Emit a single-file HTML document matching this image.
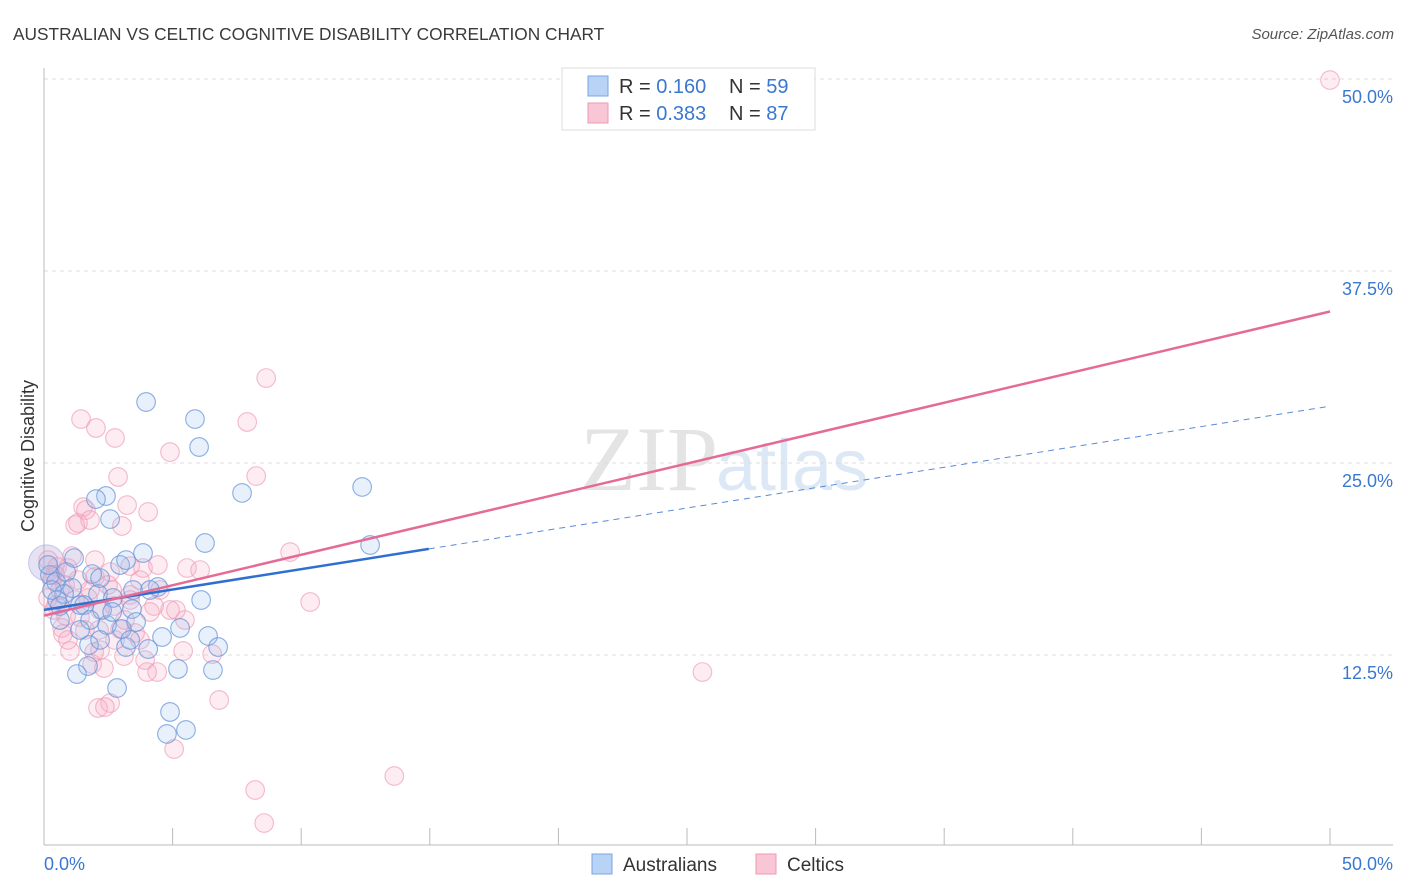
<!DOCTYPE html>
<html><head><meta charset="utf-8">
<style>
body{margin:0;background:#fff;font-family:"Liberation Sans",sans-serif;}
#wrap{position:relative;width:1406px;height:892px;overflow:hidden;}
</style></head>
<body>
<div id="wrap">
<svg id="svg" width="1406" height="892" xmlns="http://www.w3.org/2000/svg">
<text x="13" y="40" font-size="17.3" fill="#3a3a3a">AUSTRALIAN VS CELTIC COGNITIVE DISABILITY CORRELATION CHART</text>
<text x="1394" y="39" font-size="15" fill="#555" font-style="italic" text-anchor="end">Source: ZipAtlas.com</text>
<text x="718" y="490" font-size="92" fill="#e4e4e4" text-anchor="end" font-family="Liberation Serif">ZIP</text>
<text x="716" y="490" font-size="72" fill="#dce8f6">atlas</text>
<g id="grid"></g>
<g id="pts"></g>
<g id="lines"></g>
<text transform="translate(34,456) rotate(-90)" font-size="18" fill="#333" text-anchor="middle">Cognitive Disability</text>
<g>
<rect x="562" y="68" width="253" height="62" fill="#fff" stroke="#ddd"/>
<rect x="588" y="76" width="20" height="20" fill="#b8d3f5" stroke="#7aa6e0"/>
<text x="619" y="93" font-size="20" fill="#333">R = <tspan fill="#3a78d0">0.160</tspan></text>
<text x="729" y="93" font-size="20" fill="#333">N = <tspan fill="#3a78d0">59</tspan></text>
<rect x="588" y="103" width="20" height="20" fill="#f8c6d5" stroke="#ee9ab5"/>
<text x="619" y="120" font-size="20" fill="#333">R = <tspan fill="#3a78d0">0.383</tspan></text>
<text x="729" y="120" font-size="20" fill="#333">N = <tspan fill="#3a78d0">87</tspan></text>
</g>
<g>
<rect x="592" y="854" width="20" height="20" fill="#b8d3f5" stroke="#7aa6e0"/>
<text x="623" y="871" font-size="19" fill="#333">Australians</text>
<rect x="756" y="854" width="20" height="20" fill="#f8c6d5" stroke="#ee9ab5"/>
<text x="787" y="871" font-size="19" fill="#333">Celtics</text>
</g>
</svg>
</div>
<script>
const yTicks=[12.5,25,37.5,50];
const yTickLabels=["12.5%","25.0%","37.5%","50.0%"];
const xTickLabels=["0.0%","50.0%"];
const blueX=[3.97,5.87,6.03,7.70,12.37,2.41,2.02,2.57,6.26,12.68,3.85,2.96,1.87,4.43,3.46,6.11,2.10,2.68,3.42,2.26,1.40,0.62,3.58,2.45,3.03,5.29,6.38,4.59,6.77,4.05,3.19,1.75,5.21,6.57,1.71,1.28,2.84,4.90,4.78,5.52,0.23,0.47,0.86,1.09,0.78,1.56,2.18,4.12,3.19,1.17,1.79,2.65,1.40,0.51,0.16,0.31,0.62,3.35,2.18];
const blueY=[28.97,27.86,26.04,23.05,23.44,22.85,22.65,21.35,19.79,19.66,19.14,18.36,17.77,16.93,16.73,16.08,16.47,16.21,15.49,15.43,15.75,15.69,14.65,14.45,14.19,14.26,13.74,13.67,13.02,12.89,13.02,13.15,11.59,11.52,11.78,11.26,10.35,8.79,7.36,7.62,17.71,17.25,17.90,16.86,16.47,15.75,17.51,16.73,18.68,18.81,14.78,15.30,14.13,16.08,18.36,16.73,14.78,13.48,13.48];
const pinkX=[50.0,8.64,1.44,2.02,2.76,4.90,7.90,8.25,2.88,1.52,1.63,1.79,1.21,1.32,3.23,4.05,3.03,9.57,1.09,5.56,1.98,2.57,3.35,3.85,0.51,0.93,0.16,0.31,4.51,3.35,2.72,5.13,4.90,4.28,4.12,10.35,0.86,1.40,0.70,2.14,2.96,3.54,1.01,1.95,3.11,5.41,6.54,3.93,1.87,2.33,4.40,4.01,25.60,6.81,2.57,2.10,2.37,5.06,13.62,8.21,8.56,0.74,0.47,1.71,2.18,3.73,4.43,6.07,5.48,0.62,0.16,1.21,0.39,2.65,3.35,0.93,2.18,1.59,3.15,3.73,1.79,2.76,0.43,0.82,1.32,1.98,2.49];
const pinkY=[49.93,30.53,27.86,27.28,26.63,25.71,27.67,24.15,24.09,22.13,21.94,21.29,20.96,21.09,22.26,21.81,20.90,19.20,18.94,18.16,17.58,17.90,18.29,18.16,18.23,18.16,18.68,17.38,16.73,16.41,15.69,15.43,15.43,15.69,15.30,15.95,15.04,14.97,14.26,14.13,14.19,13.93,12.76,12.69,12.43,12.76,12.56,12.17,11.91,11.65,11.39,11.39,11.39,9.57,9.37,9.05,9.11,6.38,4.62,3.71,1.56,13.87,15.75,16.21,15.43,17.38,18.36,18.03,14.78,16.73,16.21,16.08,15.43,16.73,16.08,13.48,12.82,14.13,14.78,13.48,16.73,13.48,17.71,17.06,17.38,18.68,17.06];
const NS="http://www.w3.org/2000/svg";
const X0=44,X1=1330,Y0=847,PPY=192/12.5;
const sx=v=>X0+(v/50)*(X1-X0);
const sy=v=>Y0-v*PPY;
function mk(tag,attrs,parent){const e=document.createElementNS(NS,tag);for(const k in attrs)e.setAttribute(k,attrs[k]);parent.appendChild(e);return e;}
const svg=document.getElementById('svg'),grid=document.getElementById('grid'),pts=document.getElementById('pts'),lines=document.getElementById('lines');
yTicks.forEach((t,i)=>{
 const l=mk('line',{x1:44,x2:1393,y1:sy(t),y2:sy(t),stroke:'#ddd','stroke-dasharray':'4,4'},grid);
 
 
 const tx=mk('text',{x:1393,y:sy(t)+24,'font-size':18,fill:'#3a78d0','text-anchor':'end'},grid);
 tx.textContent=yTickLabels[i];
 
 
});
const ax=mk('line',{x1:44,x2:44,y1:68,y2:845,stroke:'#bbb'},grid);


const bx=mk('line',{x1:44,x2:1393,y1:845,y2:845,stroke:'#bbb'},grid);


for(let i=0;i<=10;i++){const v=i*5;const t=mk('line',{x1:sx(v),x2:sx(v),y1:828,y2:845,stroke:'#bbb'},grid);
 
 }
[[0,'start',44],[50,'end',1393]].forEach((a,i)=>{const t=mk('text',{x:a[2],y:870,'font-size':18,fill:'#3a78d0','text-anchor':a[1]},grid);t.textContent=xTickLabels[i];
 
 });
function dots(X,Y,fill,stroke,name){X.forEach((x,i)=>{const c=mk('circle',{cx:sx(x),cy:sy(Y[i]),r:9.3,fill:fill,stroke:stroke,'stroke-width':1.1},pts);
 
 });}
const big=mk('circle',{cx:sx(0.1),cy:sy(18.5),r:18,fill:'rgba(170,160,215,0.3)',stroke:'rgba(160,150,215,0.5)'},pts);


dots(pinkX,pinkY,'rgba(246,170,195,0.22)','rgba(238,150,178,0.65)','celtics-point');
dots(blueX,blueY,'rgba(150,188,238,0.22)','rgba(100,148,218,0.75)','australians-point');
function reg(X,Y){const n=X.length;let mx=0,my=0;X.forEach((x,i)=>{mx+=x;my+=Y[i]});mx/=n;my/=n;let a=0,b=0;X.forEach((x,i)=>{a+=(x-mx)*(Y[i]-my);b+=(x-mx)*(x-mx)});const s=a/b;return [s,my-s*mx];}
const [bs,bi]=reg(blueX,blueY),[ps,pi]=reg(pinkX,pinkY);
const bmax=Math.max(...blueX)*1.18;
const l1=mk('line',{x1:sx(0),y1:sy(bi),x2:sx(bmax),y2:sy(bi+bs*bmax),stroke:'#2f6fd0','stroke-width':2.5},lines);


const l2=mk('line',{x1:sx(bmax),y1:sy(bi+bs*bmax),x2:sx(50),y2:sy(bi+bs*50),stroke:'#5a8ad8','stroke-width':1,'stroke-dasharray':'6,5'},lines);


const l3=mk('line',{x1:sx(0),y1:sy(pi),x2:sx(50),y2:sy(pi+ps*50),stroke:'#e66a96','stroke-width':2.5},lines);


</script>
</body></html>
